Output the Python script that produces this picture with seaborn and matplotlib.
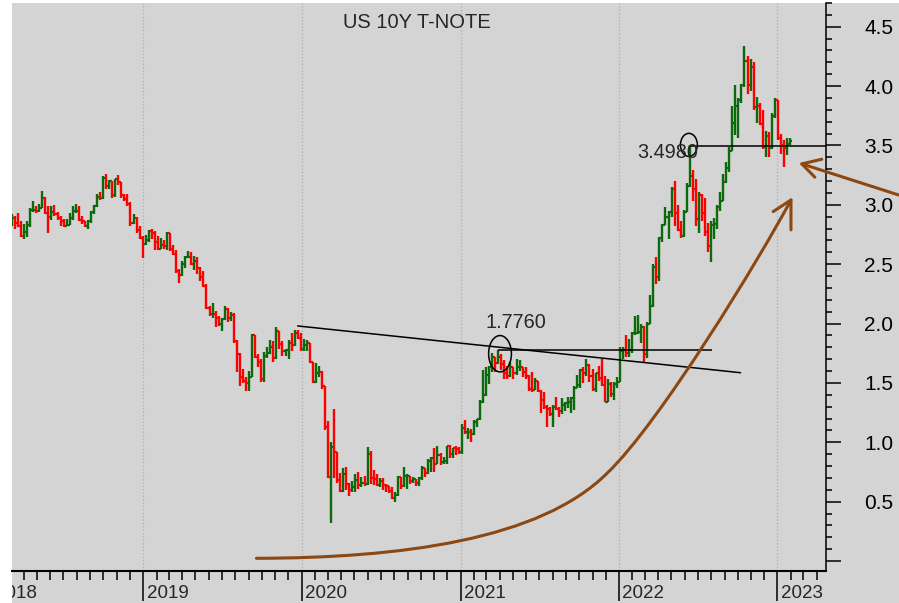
import numpy as np
import pandas as pd
import seaborn as sns
import matplotlib
matplotlib.use("Agg")
import matplotlib.pyplot as plt
import matplotlib.dates as mdates
from matplotlib.patches import Ellipse, Rectangle, PathPatch
from matplotlib.path import Path
from matplotlib.ticker import MultipleLocator, FuncFormatter

# weekly bars of the US 10Y yield, one per week starting on Monday
FIRST_WEEK = "2018-03-05"
FIRST_OPEN = 2.86

close_2018 = [2.89, 2.85, 2.82, 2.74, 2.77, 2.83, 2.96, 2.96, 2.95, 2.97, 3.06, 2.93, 2.90,
              2.94, 2.92, 2.89, 2.86, 2.82, 2.83, 2.89, 2.95, 2.95, 2.87, 2.86, 2.82, 2.86,
              2.94, 2.99, 3.07, 3.06, 3.23, 3.16, 3.20, 3.08, 3.22, 3.19, 3.08, 3.05, 3.01,
              2.85, 2.89, 2.79, 2.72, 2.67]
high_2018 = [2.92, 2.91, 2.93, 2.86, 2.84, 2.86, 2.97, 3.03, 2.99, 3.01, 3.12, 3.07, 2.99,
             2.99, 3.00, 2.94, 2.91, 2.88, 2.88, 2.93, 2.99, 3.01, 2.99, 2.91, 2.86, 2.87,
             2.95, 3.00, 3.09, 3.11, 3.24, 3.26, 3.21, 3.20, 3.22, 3.25, 3.19, 3.09, 3.09,
             3.02, 2.92, 2.90, 2.82, 2.74]
low_2018 = [2.82, 2.80, 2.81, 2.73, 2.71, 2.73, 2.81, 2.94, 2.93, 2.94, 2.97, 2.92, 2.76,
            2.87, 2.91, 2.87, 2.82, 2.81, 2.82, 2.83, 2.87, 2.93, 2.86, 2.84, 2.81, 2.80,
            2.85, 2.92, 2.98, 3.04, 3.05, 3.13, 3.13, 3.06, 3.07, 3.17, 3.06, 3.03, 2.99,
            2.82, 2.84, 2.76, 2.71, 2.55]

close_2019 = [2.70, 2.78, 2.76, 2.69, 2.63, 2.66, 2.65, 2.76, 2.63, 2.59, 2.44, 2.41,
              2.50, 2.56, 2.56, 2.50, 2.53, 2.47, 2.39, 2.32, 2.13, 2.08, 2.08, 2.05, 2.00,
              2.04, 2.12, 2.05, 2.07, 1.85, 1.74, 1.55, 1.52, 1.50, 1.55, 1.90, 1.72, 1.68,
              1.53, 1.73, 1.75, 1.80, 1.71, 1.94, 1.83, 1.77, 1.78, 1.84, 1.82, 1.92, 1.88,
              1.79]
high_2019 = [2.75, 2.79, 2.80, 2.78, 2.74, 2.72, 2.70, 2.77, 2.76, 2.66, 2.62, 2.46,
             2.53, 2.57, 2.61, 2.60, 2.57, 2.56, 2.48, 2.44, 2.33, 2.15, 2.17, 2.11, 2.06,
             2.05, 2.15, 2.13, 2.10, 2.09, 1.86, 1.75, 1.62, 1.55, 1.60, 1.91, 1.87, 1.74,
             1.70, 1.76, 1.80, 1.86, 1.85, 1.97, 1.94, 1.85, 1.79, 1.86, 1.92, 1.95, 1.95,
             1.92]
low_2019 = [2.66, 2.69, 2.71, 2.62, 2.62, 2.63, 2.63, 2.62, 2.61, 2.58, 2.43, 2.34,
            2.40, 2.47, 2.55, 2.49, 2.45, 2.42, 2.36, 2.31, 2.12, 2.06, 2.05, 1.97, 1.98,
            1.94, 2.03, 2.01, 2.02, 1.84, 1.59, 1.47, 1.50, 1.43, 1.43, 1.55, 1.71, 1.63,
            1.51, 1.51, 1.71, 1.74, 1.68, 1.70, 1.79, 1.73, 1.73, 1.70, 1.77, 1.81, 1.87,
            1.77]

close_2020 = [1.82, 1.84, 1.68, 1.51, 1.58, 1.59, 1.47, 1.13, 0.71, 0.96, 0.92, 0.68,
              0.59, 0.73, 0.65, 0.60, 0.62, 0.68, 0.64, 0.66, 0.65, 0.90, 0.70, 0.69, 0.64,
              0.67, 0.64, 0.63, 0.59, 0.53, 0.56, 0.71, 0.63, 0.72, 0.72, 0.67, 0.69, 0.66,
              0.70, 0.78, 0.74, 0.84, 0.87, 0.82, 0.89, 0.83, 0.84, 0.97, 0.90, 0.95, 0.94,
              0.92]
high_2020 = [1.87, 1.86, 1.81, 1.68, 1.67, 1.64, 1.60, 1.40, 1.18, 1.00, 1.28, 0.92,
             0.74, 0.78, 0.79, 0.66, 0.67, 0.73, 0.75, 0.71, 0.72, 0.96, 0.93, 0.77, 0.73,
             0.70, 0.70, 0.65, 0.63, 0.62, 0.58, 0.72, 0.70, 0.79, 0.73, 0.72, 0.71, 0.69,
             0.71, 0.80, 0.78, 0.86, 0.88, 0.95, 0.97, 0.91, 0.88, 0.97, 0.98, 0.95, 0.97,
             0.96]
low_2020 = [1.77, 1.77, 1.67, 1.50, 1.50, 1.55, 1.45, 1.10, 0.70, 0.32, 0.70, 0.66,
            0.58, 0.58, 0.60, 0.55, 0.58, 0.58, 0.61, 0.62, 0.63, 0.64, 0.65, 0.64, 0.63,
            0.62, 0.60, 0.58, 0.57, 0.52, 0.50, 0.55, 0.61, 0.62, 0.61, 0.65, 0.66, 0.63,
            0.63, 0.68, 0.71, 0.73, 0.75, 0.75, 0.82, 0.81, 0.82, 0.82, 0.87, 0.87, 0.89,
            0.90]

close_2021 = [1.12, 1.09, 1.09, 1.07, 1.17, 1.20, 1.34, 1.40, 1.57, 1.63, 1.72, 1.67,
              1.72, 1.66, 1.58, 1.56, 1.63, 1.58, 1.63, 1.63, 1.59, 1.56, 1.45, 1.44, 1.52,
              1.43, 1.36, 1.30, 1.28, 1.24, 1.30, 1.28, 1.26, 1.31, 1.33, 1.34, 1.37, 1.46,
              1.48, 1.61, 1.58, 1.65, 1.56, 1.45, 1.58, 1.54, 1.48, 1.34, 1.49, 1.41, 1.49,
              1.51]
high_2021 = [1.15, 1.19, 1.12, 1.11, 1.19, 1.20, 1.36, 1.61, 1.63, 1.64, 1.75, 1.72,
             1.78, 1.74, 1.69, 1.64, 1.68, 1.63, 1.70, 1.69, 1.63, 1.63, 1.57, 1.59, 1.54,
             1.52, 1.44, 1.42, 1.31, 1.30, 1.31, 1.38, 1.30, 1.37, 1.34, 1.38, 1.38, 1.47,
             1.57, 1.62, 1.63, 1.70, 1.66, 1.62, 1.58, 1.64, 1.70, 1.56, 1.53, 1.51, 1.51,
             1.55]
low_2021 = [0.90, 1.07, 1.03, 1.00, 1.06, 1.13, 1.19, 1.33, 1.39, 1.49, 1.59, 1.59,
            1.66, 1.61, 1.53, 1.53, 1.55, 1.53, 1.57, 1.60, 1.55, 1.53, 1.43, 1.42, 1.44,
            1.42, 1.25, 1.28, 1.13, 1.22, 1.13, 1.27, 1.21, 1.24, 1.26, 1.29, 1.25, 1.27,
            1.46, 1.46, 1.50, 1.56, 1.51, 1.43, 1.42, 1.52, 1.47, 1.34, 1.34, 1.38, 1.36,
            1.46]

close_2022 = [1.77, 1.78, 1.75, 1.78, 1.92, 1.92, 1.93, 1.97, 1.74, 2.00, 2.15, 2.48,
              2.39, 2.72, 2.83, 2.90, 2.94, 3.13, 2.93, 2.79, 2.74, 2.94, 3.16, 3.24, 3.13,
              2.88, 3.08, 2.93, 2.77, 2.65, 2.83, 2.84, 2.98, 3.03, 3.19, 3.31, 3.45, 3.69,
              3.83, 3.88, 4.01, 4.21, 4.01, 4.16, 3.82, 3.83, 3.68, 3.49, 3.58, 3.48, 3.75,
              3.88]
high_2022 = [1.80, 1.80, 1.90, 1.87, 1.93, 2.06, 2.07, 2.00, 1.98, 2.01, 2.24, 2.50,
             2.56, 2.73, 2.84, 2.98, 2.95, 3.15, 3.20, 3.00, 2.86, 2.96, 3.18, 3.50, 3.29,
             3.22, 3.11, 3.09, 3.06, 2.85, 2.86, 2.89, 3.00, 3.11, 3.26, 3.36, 3.49, 3.83,
             4.01, 3.90, 4.02, 4.34, 4.25, 4.23, 4.20, 3.91, 3.86, 3.80, 3.62, 3.61, 3.77,
             3.90]
low_2022 = [1.51, 1.70, 1.72, 1.72, 1.75, 1.90, 1.91, 1.84, 1.68, 1.71, 2.00, 2.14,
            2.33, 2.36, 2.69, 2.83, 2.71, 2.90, 2.82, 2.78, 2.72, 2.73, 2.94, 3.15, 3.03,
            2.82, 2.76, 2.86, 2.74, 2.60, 2.52, 2.71, 2.80, 2.95, 3.05, 3.18, 3.28, 3.45,
            3.59, 3.56, 3.86, 3.99, 3.93, 3.96, 3.80, 3.69, 3.67, 3.47, 3.40, 3.40, 3.47,
            3.73]

close_2023 = [3.56, 3.50, 3.48, 3.51, 3.54]
high_2023 = [3.88, 3.60, 3.55, 3.56, 3.56]
low_2023 = [3.55, 3.43, 3.32, 3.42, 3.50]

# marked levels
PEAK_2021 = 1.776
PEAK_2022 = 3.498

GREY = "#d4d4d4"
GREEN = "#0c6a0c"
RED = "#ff0000"
BROWN = "#8b4813"


def d(s):
    return mdates.date2num(pd.Timestamp(s))


def main():
    close = np.array(close_2018 + close_2019 + close_2020 + close_2021 + close_2022 + close_2023)
    high = np.array(high_2018 + high_2019 + high_2020 + high_2021 + high_2022 + high_2023)
    low = np.array(low_2018 + low_2019 + low_2020 + low_2021 + low_2022 + low_2023)
    opn = np.r_[FIRST_OPEN, close[:-1]]
    hi = np.maximum(high, np.maximum(opn, close))
    lo = np.minimum(low, np.minimum(opn, close))

    weeks = pd.date_range(FIRST_WEEK, periods=len(close), freq="W-MON")
    x = mdates.date2num(weeks)
    cols = np.where(close >= opn, GREEN, RED)

    sns.set_theme(style="white")
    plt.rcParams["font.family"] = ["Liberation Sans", "DejaVu Sans"]

    fig = plt.figure(figsize=(8.99, 6.03), dpi=100, facecolor="white")
    bg = Rectangle((11.5 / 899, 0), 1, 600 / 603, transform=fig.transFigure,
                   facecolor=GREY, edgecolor="none", zorder=-5)
    fig.add_artist(bg)

    ax = fig.add_axes([11.5 / 899, 32 / 603, 814.2 / 899, 568 / 603])
    ax.set_facecolor(GREY)

    # OHLC bars
    ax.vlines(x, lo, hi, colors=cols, lw=1.7, zorder=3)
    ax.hlines(opn, x - 3.5, x, colors=cols, lw=1.6, zorder=3)
    ax.hlines(close, x, x + 3.5, colors=cols, lw=1.6, zorder=3)

    ax.set_xlim(d("2018-03-04"), d("2023-04-22"))
    ax.set_ylim(-0.084, 4.70)

    # axes styling
    sns.despine(ax=ax, left=True, top=True, right=False, bottom=False)
    ax.spines["bottom"].set_linewidth(1.5)
    ax.spines["right"].set_linewidth(1.1)
    ax.spines["bottom"].set_color("black")
    ax.spines["right"].set_color("black")

    ax.yaxis.tick_right()
    ax.yaxis.set_major_locator(MultipleLocator(0.5))
    ax.yaxis.set_minor_locator(MultipleLocator(0.1))
    ax.yaxis.set_major_formatter(FuncFormatter(lambda v, p: "" if abs(v) < 1e-9 else f"{v:.1f}"))
    ax.tick_params(axis="y", which="major", length=10.8, width=1.1, pad=17,
                   labelsize=15, colors="black", right=True, left=False)
    ax.tick_params(axis="y", which="minor", length=4.3, width=1.1, colors="black",
                   right=True, left=False)

    ax.xaxis.set_major_locator(mdates.YearLocator())
    ax.xaxis.set_minor_locator(mdates.MonthLocator())
    ax.tick_params(axis="x", which="major", length=21.6, width=1.1, colors="black",
                   labelbottom=False, bottom=True)
    ax.tick_params(axis="x", which="minor", length=6.5, width=1.1, colors="black",
                   bottom=True)
    ax.grid(axis="x", which="major", color="#b4b4b4", linestyle=(0, (1.2, 1.5)), lw=0.9)
    ax.grid(axis="y", visible=False)
    ax.set_axisbelow(True)

    # year labels sit right of their tick; the first one is cut by the left margin
    for yr in range(2018, 2024):
        dx = 7.5 if yr == 2018 else 2.5
        t = ax.annotate(str(yr), xy=(d(f"{yr}-01-01"), 0), xycoords=("data", "axes fraction"),
                        xytext=(dx, -19.4), textcoords="offset points", ha="left",
                        va="baseline", fontsize=13.5, annotation_clip=False)
        t.set_clip_path(bg)

    # chart markup
    ax.plot([d("2019-12-23"), d("2022-10-08")], [1.98, 1.586], color="black", lw=1.1, zorder=4)
    ax.hlines(PEAK_2021, d("2021-03-28"), d("2022-08-04"), color="black", lw=1.1, zorder=4)
    ax.hlines(PEAK_2022, d("2022-06-13"), d("2023-04-22"), color="black", lw=1.1, zorder=4)
    ax.add_patch(Ellipse((d("2021-04-02"), 1.746), 52.5, 0.306, fill=False,
                         edgecolor="black", lw=1.1, zorder=4))
    ax.add_patch(Ellipse((d("2022-06-11"), 3.505), 39, 0.194, fill=False,
                         edgecolor="black", lw=1.1, zorder=4))
    ax.text(d("2021-05-09"), 1.960, f"{PEAK_2021:.4f}", ha="center", va="baseline",
            fontsize=14.3, zorder=5)
    ax.text(d("2022-04-22"), 3.393, f"{PEAK_2022:.4f}", ha="center", va="baseline",
            fontsize=14.3, zorder=5)

    verts = [(d("2019-09-19"), 0.023), (d("2020-08-15"), 0.025), (d("2021-07-04"), 0.177),
             (d("2021-12-05"), 0.741), (d("2022-04-05"), 1.163), (d("2022-11-22"), 2.553),
             (d("2023-02-01"), 3.041)]
    codes = [Path.MOVETO] + [Path.CURVE4] * 6
    ax.add_patch(PathPatch(Path(verts, codes), fill=False, edgecolor=BROWN, lw=2.2,
                           capstyle="round", zorder=6, clip_on=False))
    ax.plot([d("2022-12-22"), d("2023-02-01"), d("2023-02-01")], [2.943, 3.041, 2.789],
            color=BROWN, lw=2.2, solid_capstyle="round", zorder=6, clip_on=False)

    ax.plot([d("2023-10-07"), d("2023-02-26")], [3.083, 3.345], color=BROWN, lw=2.2,
            solid_capstyle="round", zorder=6, clip_on=False)
    ax.plot([d("2023-04-13"), d("2023-02-26"), d("2023-03-28")], [3.384, 3.345, 3.233],
            color=BROWN, lw=2.2, solid_capstyle="round", zorder=6, clip_on=False)

    fig.text(416.5 / 899, 1 - 28.3 / 603, "US 10Y T-NOTE", ha="center", va="baseline",
             fontsize=14.5)

    fig.savefig("out.png", dpi=100, facecolor="white")
    plt.close(fig)


if __name__ == "__main__":
    main()
